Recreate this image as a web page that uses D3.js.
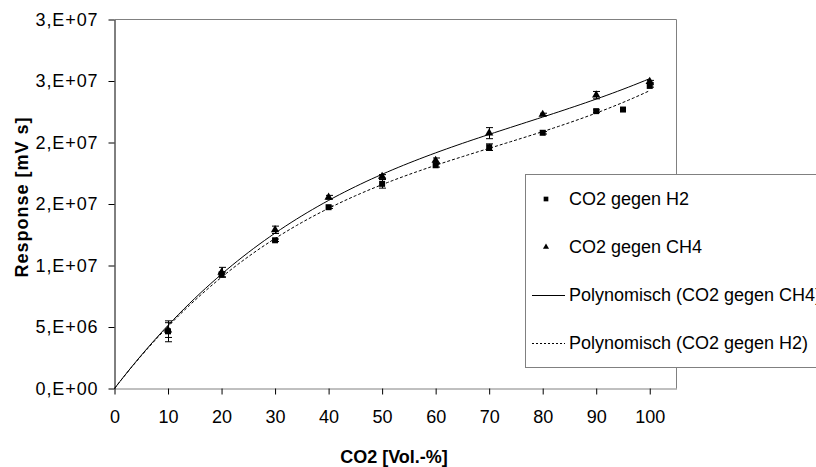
<!DOCTYPE html>
<html>
<head>
<meta charset="utf-8">
<script src="https://cdn.jsdelivr.net/npm/d3@7"></script>
<style>
  body { margin: 0; background: #fff; }
  svg { display: block; }
  text { font-family: "Liberation Sans", Arial, sans-serif; fill: #000; }
</style>
</head>
<body>
<svg id="chart" width="816" height="467"></svg>
<script>
// Axis ticks and their labels (Excel-style scientific with decimal comma)
const xTicks = [0, 10, 20, 30, 40, 50, 60, 70, 80, 90, 100];
const yTicks = [0, 5e6, 10e6, 15e6, 20e6, 25e6, 30e6];
const yTickLabels = ["0,E+00", "5,E+06", "1,E+07", "2,E+07", "2,E+07", "3,E+07", "3,E+07"];

// CO2 gegen H2 (squares)
const h2X   = [10, 20, 30, 40, 50, 60, 70, 80, 90, 95, 100];
const h2Y   = [4.65e6, 9.27e6, 12.05e6, 14.74e6, 16.64e6, 18.15e6, 19.62e6, 20.79e6, 22.55e6, 22.68e6, 24.6e6];
const h2Err = [0.85e6, 0.2e6, 0.1e6, 0.1e6, 0.35e6, 0.15e6, 0.27e6, 0.1e6, 0.1e6, 0, 0.1e6];

// CO2 gegen CH4 (triangles)
const ch4X   = [10, 20, 30, 40, 50, 60, 70, 80, 90, 100];
const ch4Y   = [4.75e6, 9.45e6, 12.9e6, 15.55e6, 17.24e6, 18.54e6, 20.76e6, 22.28e6, 23.85e6, 24.95e6];
const ch4Err = [0.6e6, 0.4e6, 0.3e6, 0.15e6, 0.15e6, 0.2e6, 0.45e6, 0.1e6, 0.3e6, 0.1e6];

const legendLabels = ["CO2 gegen H2", "CO2 gegen CH4", "Polynomisch (CO2 gegen CH4)", "Polynomisch (CO2 gegen H2)"];

// Least-squares polynomial through the origin: y = c1 x + c2 x^2 + ... + cn x^n
function polyFitOrigin(xs, ys, order) {
  const s = 100; // scale x for numerical stability
  const n = order;
  const A = Array.from({length: n}, () => new Array(n + 1).fill(0));
  xs.forEach((x0, k) => {
    const xv = x0 / s;
    const pw = d3.range(1, n + 1).map(p => Math.pow(xv, p));
    for (let i = 0; i < n; i++) {
      for (let j = 0; j < n; j++) A[i][j] += pw[i] * pw[j];
      A[i][n] += pw[i] * ys[k];
    }
  });
  for (let i = 0; i < n; i++) {
    let m = i;
    for (let r = i + 1; r < n; r++) if (Math.abs(A[r][i]) > Math.abs(A[m][i])) m = r;
    [A[i], A[m]] = [A[m], A[i]];
    for (let r = 0; r < n; r++) {
      if (r === i) continue;
      const f = A[r][i] / A[i][i];
      for (let c = i; c <= n; c++) A[r][c] -= f * A[i][c];
    }
  }
  const coef = A.map((row, i) => row[n] / row[i]);
  return x0 => { const xv = x0 / s; return coef.reduce((acc, c, i) => acc + c * Math.pow(xv, i + 1), 0); };
}

const svg = d3.select("#chart");
const plotL = 114.5, plotR = 676.5, plotT = 19.5, plotB = 388.5;

const x = d3.scaleLinear().domain([0, 105]).range([plotL, plotR]);
const y = d3.scaleLinear().domain([0, 30e6]).range([plotB, plotT]);

// Plot-area frame (top and right)
svg.append("path")
  .attr("d", `M${plotL},${plotT}H${plotR}V${plotB}`)
  .attr("fill", "none").attr("stroke", "#808080").attr("stroke-width", 1);

// X axis
const xAxis = svg.append("g").attr("transform", `translate(0,${plotB})`)
  .call(d3.axisBottom(x).tickValues(xTicks).tickSize(6).tickPadding(16).tickSizeOuter(0));
xAxis.select(".domain").attr("stroke", "#808080");
xAxis.selectAll(".tick line").attr("stroke", "#000");
xAxis.selectAll("text").attr("font-size", 18).attr("font-family", "Liberation Sans, Arial, sans-serif");

// Y axis
const yAxis = svg.append("g").attr("transform", `translate(${plotL},0)`)
  .call(d3.axisLeft(y).tickValues(yTicks).tickSize(6).tickPadding(10).tickSizeOuter(0)
    .tickFormat((d, i) => yTickLabels[i]));
yAxis.select(".domain").attr("stroke", "#000");
yAxis.selectAll(".tick line").attr("stroke", "#000");
yAxis.selectAll("text").attr("font-size", 18).attr("font-family", "Liberation Sans, Arial, sans-serif")
  .attr("letter-spacing", 0.9);

// Axis titles
svg.append("text").attr("x", 394).attr("y", 463)
  .attr("text-anchor", "middle").attr("font-size", 18).attr("font-weight", "bold")
  .text("CO2 [Vol.-%]");
svg.append("text").attr("transform", "translate(28,197) rotate(-90)")
  .attr("text-anchor", "middle").attr("font-size", 18).attr("font-weight", "bold")
  .attr("letter-spacing", 1)
  .text("Response [mV s]");

// Trend lines
const fitCH4 = polyFitOrigin(ch4X, ch4Y, 3);
const fitH2 = polyFitOrigin(h2X, h2Y, 3);
const xs = d3.range(0, 100.5, 1);
const line = f => d3.line().x(d => x(d)).y(d => y(f(d)))(xs);

svg.append("path").attr("d", line(fitCH4))
  .attr("fill", "none").attr("stroke", "#000").attr("stroke-width", 1);
svg.append("path").attr("d", line(fitH2))
  .attr("fill", "none").attr("stroke", "#000").attr("stroke-width", 1).attr("stroke-dasharray", "3,2");

// Error bars
function errorBars(xv, yv, ev) {
  const g = svg.append("g").attr("stroke", "#000").attr("stroke-width", 1);
  xv.forEach((xx, i) => {
    if (!ev[i]) return;
    const cx = Math.round(x(xx)) + 0.5;
    const y1 = y(yv[i] + ev[i]), y2 = y(yv[i] - ev[i]);
    g.append("path").attr("d",
      `M${cx},${y1}V${y2}M${cx - 3.5},${y1}H${cx + 3.5}M${cx - 3.5},${y2}H${cx + 3.5}`);
  });
}
errorBars(h2X, h2Y, h2Err);
errorBars(ch4X, ch4Y, ch4Err);

// Markers
const sq = d3.symbol().type(d3.symbolSquare).size(36);
const tri = d3.symbol().type(d3.symbolTriangle).size(30);
svg.append("g").selectAll("path").data(h2X).join("path")
  .attr("d", sq).attr("transform", (d, i) => `translate(${x(d)},${y(h2Y[i])})`).attr("fill", "#000");
svg.append("g").selectAll("path").data(ch4X).join("path")
  .attr("d", tri).attr("transform", (d, i) => `translate(${x(d)},${y(ch4Y[i])})`).attr("fill", "#000");

// Legend
const lg = svg.append("g");
lg.append("rect").attr("x", 525.5).attr("y", 174.5).attr("width", 320).attr("height", 193)
  .attr("fill", "#fff").attr("stroke", "#808080");
const rowsY = [199, 247, 295, 343];
lg.append("path").attr("d", d3.symbol().type(d3.symbolSquare).size(22))
  .attr("transform", `translate(546,${rowsY[0]})`).attr("fill", "#000");
lg.append("path").attr("d", d3.symbol().type(d3.symbolTriangle).size(16))
  .attr("transform", `translate(546,${rowsY[1]})`).attr("fill", "#000");
lg.append("line").attr("x1", 532).attr("x2", 565).attr("y1", rowsY[2] + 0.5).attr("y2", rowsY[2] + 0.5)
  .attr("stroke", "#000");
lg.append("line").attr("x1", 532).attr("x2", 565).attr("y1", rowsY[3] + 0.5).attr("y2", rowsY[3] + 0.5)
  .attr("stroke", "#000").attr("stroke-dasharray", "2,2");
lg.selectAll("text.item").data(legendLabels).join("text").attr("class", "item")
  .attr("x", 569).attr("y", (d, i) => rowsY[i]).attr("dy", "0.35em")
  .attr("font-size", 18).text(d => d);
</script>
</body>
</html>
